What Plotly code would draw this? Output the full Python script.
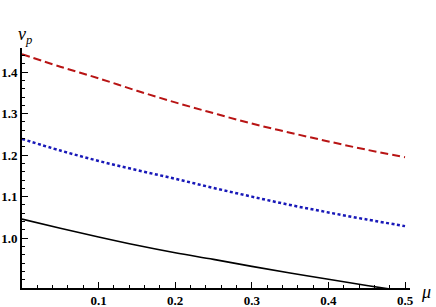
import plotly.graph_objects as go

mu = [0.0, 0.05, 0.1, 0.15, 0.2, 0.25, 0.3, 0.35, 0.4, 0.45, 0.5]
v_red = [1.443, 1.413, 1.385, 1.355, 1.327, 1.301, 1.276, 1.254, 1.233, 1.213, 1.195]
v_blue = [1.239, 1.211, 1.186, 1.164, 1.143, 1.121, 1.100, 1.080, 1.062, 1.045, 1.029]
v_black = [1.046, 1.024, 1.003, 0.983, 0.965, 0.949, 0.932, 0.916, 0.901, 0.886, 0.872]

x_ticks = [0.1, 0.2, 0.3, 0.4, 0.5]
x_labels = ["0.1", "0.2", "0.3", "0.4", "0.5"]
y_ticks = [1.0, 1.1, 1.2, 1.3, 1.4]
y_labels = ["1.0", "1.1", "1.2", "1.3", "1.4"]

SERIF = "Liberation Serif"

fig = go.Figure()
fig.add_trace(go.Scatter(x=mu, y=v_red, mode="lines", line=dict(color="#b81414", width=2, dash="8px,4px", shape="spline")))
fig.add_trace(go.Scatter(x=mu, y=v_blue, mode="lines", line=dict(color="#1818b8", width=2.5, dash="3px,2.5px", shape="spline")))
fig.add_trace(go.Scatter(x=mu, y=v_black, mode="lines", line=dict(color="black", width=1.6, shape="spline")))

tickfont = dict(family=SERIF, size=13, color="black")
fig.update_layout(
    width=436, height=307,
    margin=dict(l=22, r=26, t=48, b=19, autoexpand=False),
    plot_bgcolor="white", paper_bgcolor="white",
    showlegend=False,
    xaxis=dict(range=[0, 0.5065], tickvals=x_ticks, ticktext=["<b>%s</b>" % t for t in x_labels],
               ticks="inside", ticklen=6, automargin=False,
               tickwidth=1.3, tickcolor="black", showline=True, linecolor="black", linewidth=1.6,
               showgrid=False, zeroline=False, tickfont=tickfont,
               minor=dict(ticks="inside", dtick=0.02, tick0=0, ticklen=3, tickwidth=1.1, tickcolor="black", showgrid=False)),
    yaxis=dict(range=[0.88, 1.458], tickvals=y_ticks, ticktext=["<b>%s</b>" % t for t in y_labels],
               ticks="inside", ticklen=6, automargin=False,
               tickwidth=1.3, tickcolor="black", showline=True, linecolor="black", linewidth=1.6,
               showgrid=False, zeroline=False, tickfont=tickfont,
               minor=dict(ticks="inside", dtick=0.02, tick0=0.9, ticklen=3, tickwidth=1.1, tickcolor="black", showgrid=False)),
    annotations=[
        dict(text="<i>v</i><sub><i>p</i></sub>", xref="paper", yref="paper", x=-0.015, y=1.11,
             showarrow=False, font=dict(family=SERIF, size=18, color="black")),
        dict(text="<i>μ</i>", xref="paper", yref="paper", x=1.06, y=-0.065,
             showarrow=False, font=dict(family=SERIF, size=18, color="black")),
    ],
)

fig.write_html("out.html", config={"displayModeBar": False},
               post_script="document.body.style.margin='0';document.body.style.overflow='hidden';")
